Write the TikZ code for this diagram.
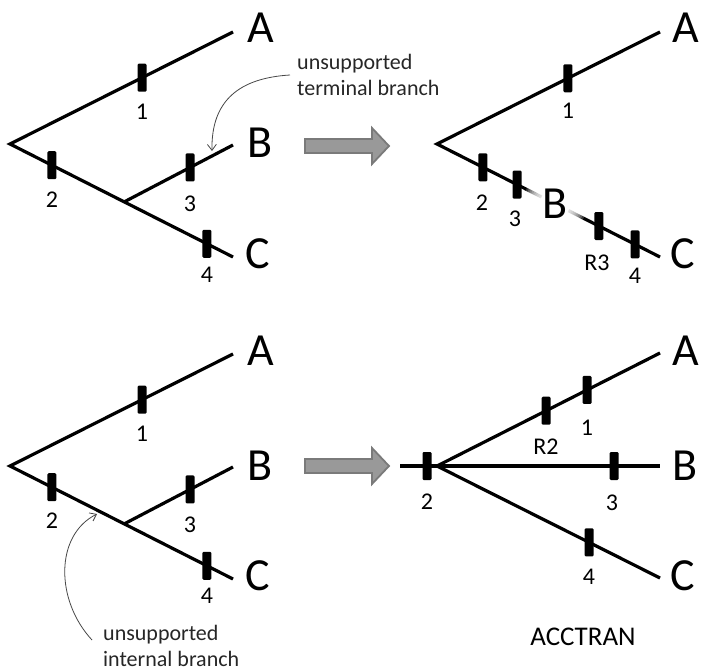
\documentclass[tikz,border=0pt]{standalone}
\usepackage{fontspec}
\setmainfont{Carlito}
\usetikzlibrary{arrows.meta,calc}
\begin{document}
\begin{tikzpicture}[x=1pt,y=-1pt,
  branch/.style={line width=3.2pt},
  tickmark/.style={rectangle, fill=black, minimum width=9pt, minimum height=28pt, inner sep=0pt, rounded corners=1.2pt},
  biglbl/.style={font=\fontsize{46}{46}\selectfont, inner sep=0pt},
  numlbl/.style={font=\fontsize{24}{24}\selectfont, inner sep=0pt},
  annot/.style={font=\fontsize{22}{26}\selectfont, align=left, inner sep=0pt, text=black!85},
  annarrow/.style={draw=black!72, line width=0.8pt, -{Straight Barb[length=6pt,width=9pt]}},
  blockarrow/.style={fill=black!40, draw=black!52, line width=1.8pt, line join=miter}
]
\useasboundingbox (0,0) rectangle (701,671);

% ================= top-left tree =================
\coordinate (r1) at (10,144);
\coordinate (n1) at (124,202);
\coordinate (a1) at (233,32);
\coordinate (b1) at (233,145);
\coordinate (c1) at (233,257);
\draw[branch] (a1) -- (r1) -- (c1);
\draw[branch] (n1) -- (b1);
\path (r1) -- (a1) node[tickmark, pos=0.592] (t1a) {};
\path (r1) -- (c1) node[tickmark, pos=0.188] (t1b) {};
\path (n1) -- (b1) node[tickmark, pos=0.606] (t1c) {};
\path (r1) -- (c1) node[tickmark, pos=0.883] (t1d) {};
\node[numlbl] (l1a) at (142,112) {1};
\node[numlbl] (l1b) at (52,200) {2};
\node[numlbl] (l1c) at (190,204) {3};
\node[numlbl] (l1d) at (207,275) {4};
\node[biglbl, anchor=base west] (A1) at (247,43) {A};
\node[biglbl, anchor=base west] (B1) at (247,158) {B};
\node[biglbl, anchor=base west] (C1) at (245,268) {C};

% annotation (terminal)
\node[annot, anchor=base west] (ann1) at (297,96) {unsupported\\terminal branch};
\coordinate (ann1end) at (212,151);
\draw[annarrow] (290,75) .. controls (240,78) and (211,100) .. (ann1end);

% block arrow top
\draw[blockarrow] (305,139) -- (372,139) -- (372,128) -- (389,146) -- (372,164) -- (372,153) -- (305,153) -- cycle;

% ================= top-right tree =================
\coordinate (r2) at (437,144);
\coordinate (a2) at (660,32);
\coordinate (c2) at (660,257);
\draw[branch] (a2) -- (r2) -- (c2);
\path (r2) -- (c2) coordinate[pos=0.529] (b2pos);
\foreach \rr in {32,30,...,16} {\fill[white, opacity=0.22] (b2pos) circle (\rr);}
\fill[white] (b2pos) circle (15);
\path (r2) -- (a2) node[tickmark, pos=0.587] (t2a) {};
\path (r2) -- (c2) node[tickmark, pos=0.206] (t2b) {};
\path (r2) -- (c2) node[tickmark, pos=0.359] (t2c) {};
\path (r2) -- (c2) node[tickmark, pos=0.726] (t2r) {};
\path (r2) -- (c2) node[tickmark, pos=0.888] (t2d) {};
\node[numlbl] (l2a) at (568,111) {1};
\node[numlbl] (l2b) at (482,203) {2};
\node[numlbl] (l2c) at (515,219) {3};
\node[numlbl] (l2r) at (597,263) {R3};
\node[numlbl] (l2d) at (635,276) {4};
\node[biglbl, anchor=base west] (A2) at (672,43) {A};
\node[biglbl] (B2) at (b2pos) {B};
\node[biglbl, anchor=base west] (C2) at (670,268) {C};

% ================= bottom-left tree =================
\coordinate (r3) at (10,466);
\coordinate (n3) at (124,524);
\coordinate (a3) at (233,354);
\coordinate (b3) at (233,467);
\coordinate (c3) at (233,579);
\draw[branch] (a3) -- (r3) -- (c3);
\draw[branch] (n3) -- (b3);
\path (r3) -- (a3) node[tickmark, pos=0.592] (t3a) {};
\path (r3) -- (c3) node[tickmark, pos=0.188] (t3b) {};
\path (n3) -- (b3) node[tickmark, pos=0.606] (t3c) {};
\path (r3) -- (c3) node[tickmark, pos=0.883] (t3d) {};
\node[numlbl] (l3a) at (142,434) {1};
\node[numlbl] (l3b) at (52,521) {2};
\node[numlbl] (l3c) at (190,525) {3};
\node[numlbl] (l3d) at (207,596) {4};
\node[biglbl, anchor=base west] (A3) at (247,365) {A};
\node[biglbl, anchor=base west] (B3) at (247,480) {B};
\node[biglbl, anchor=base west] (C3) at (245,590) {C};

% annotation (internal)
\node[annot, anchor=base west] (ann2) at (103,666) {unsupported\\internal branch};
\coordinate (ann2end) at (97,514);
\draw[annarrow] (92,640) .. controls (55,600) and (55,535) .. (ann2end);

% block arrow bottom
\draw[blockarrow] (305,459) -- (372,459) -- (372,448) -- (389,466) -- (372,484) -- (372,473) -- (305,473) -- cycle;

% ================= bottom-right tree =================
\coordinate (s4) at (400,466);
\coordinate (r4) at (437,466);
\coordinate (a4) at (660,353);
\coordinate (b4) at (660,466);
\coordinate (c4) at (660,578);
\draw[branch] (s4) -- (b4);
\draw[branch] (a4) -- (r4) -- (c4);
\path (s4) -- (r4) node[tickmark, pos=0.73] (t4b) {};
\path (r4) -- (a4) node[tickmark, pos=0.489] (t4r) {};
\path (r4) -- (a4) node[tickmark, pos=0.673] (t4a) {};
\path (r4) -- (b4) node[tickmark, pos=0.794] (t4c) {};
\path (r4) -- (c4) node[tickmark, pos=0.682] (t4d) {};
\node[numlbl] (l4b) at (427,502) {2};
\node[numlbl] (l4r) at (546,447) {R2};
\node[numlbl] (l4a) at (587,428) {1};
\node[numlbl] (l4c) at (612,503) {3};
\node[numlbl] (l4d) at (589,577) {4};
\node[biglbl, anchor=base west] (A4) at (672,365) {A};
\node[biglbl, anchor=base west] (B4) at (672,480) {B};
\node[biglbl, anchor=base west] (C4) at (670,590) {C};
\node[font=\fontsize{27}{27}\selectfont, inner sep=0pt] (acc) at (583,637) {ACCTRAN};
\end{tikzpicture}
\end{document}
